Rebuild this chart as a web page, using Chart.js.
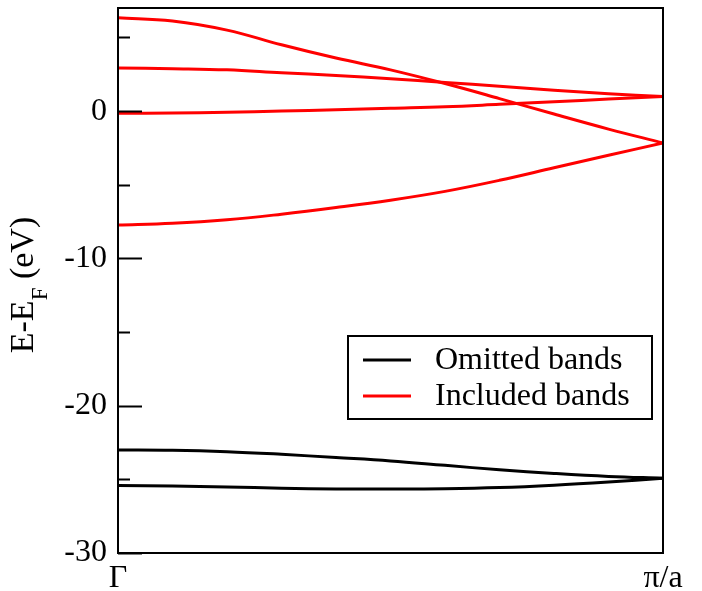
<!DOCTYPE html>
<html>
<head>
<meta charset="utf-8">
<script src="https://cdn.jsdelivr.net/npm/chart.js@4.4.1/dist/chart.umd.min.js"></script>
<style>
  body { margin: 0; background: #fff; }
  canvas { display: block; }
</style>
</head>
<body>
<canvas id="bands" width="702" height="591"></canvas>
<script>
// k along Gamma -> pi/a, as a fraction of the zone
const kPoints = [0, 0.1, 0.2, 0.3, 0.4, 0.5, 0.6, 0.7, 0.8, 0.9, 1.0];

// omitted (black) bands, eV
const omittedBand1 = [-23.0, -23.02, -23.12, -23.3, -23.52, -23.75, -24.05, -24.35, -24.6, -24.8, -24.92];
const omittedBand2 = [-25.42, -25.45, -25.52, -25.6, -25.65, -25.66, -25.64, -25.56, -25.4, -25.18, -24.92];

// included (red) bands, eV
const includedBand1 = [6.33, 6.12, 5.5, 4.5, 3.6, 2.8, 1.87, 0.85, -0.2, -1.22, -2.16];
const includedBand2 = [2.93, 2.88, 2.8, 2.6, 2.42, 2.2, 1.95, 1.68, 1.42, 1.18, 0.99];
const includedBand3 = [-0.15, -0.13, -0.08, 0.0, 0.1, 0.2, 0.3, 0.46, 0.63, 0.82, 0.99];
const includedBand4 = [-7.74, -7.62, -7.38, -7.0, -6.55, -6.05, -5.45, -4.7, -3.85, -3.0, -2.16];

const xTickValues = [0, 1];
const xTickLabels = ['Γ', 'π/a'];
const yMajorTicks = [-30, -20, -10, 0];
const yMinorTicks = [-25, -15, -5, 5];

const FONT = '"Liberation Serif", "Times New Roman", serif';

function band(values, color, label) {
  return {
    label: label,
    data: kPoints.map((k, i) => ({ x: k, y: values[i] })),
    borderColor: color,
    borderWidth: 3,
    pointRadius: 0,
    fill: false,
    tension: 0.4
  };
}

const framePlugin = {
  id: 'frame',
  afterDatasetsDraw(chart) {
    const ctx = chart.ctx;
    const a = chart.chartArea;
    const y = chart.scales.y;
    ctx.save();
    ctx.strokeStyle = '#000';
    ctx.lineWidth = 2;
    ctx.strokeRect(a.left, a.top, a.right - a.left, a.bottom - a.top);

    // inward ticks on the left axis
    ctx.beginPath();
    yMajorTicks.forEach(v => {
      const p = Math.round(y.getPixelForValue(v)) + 0.5;
      ctx.moveTo(a.left, p); ctx.lineTo(a.left + 24, p);
    });
    yMinorTicks.forEach(v => {
      const p = Math.round(y.getPixelForValue(v)) + 0.5;
      ctx.moveTo(a.left, p); ctx.lineTo(a.left + 12, p);
    });
    ctx.lineWidth = 2;
    ctx.stroke();

    // legend box
    const lx = 348, ly = 336, lw = 304, lh = 83;
    ctx.fillStyle = '#fff';
    ctx.fillRect(lx, ly, lw, lh);
    ctx.lineWidth = 2;
    ctx.strokeRect(lx, ly, lw, lh);
    const entries = chart.data.datasets.filter(d => d.label);
    ctx.font = '32px ' + FONT;
    ctx.textBaseline = 'middle';
    ctx.textAlign = 'left';
    entries.forEach((d, i) => {
      const yy = 360 + i * 36;
      ctx.strokeStyle = d.borderColor;
      ctx.lineWidth = 3;
      ctx.beginPath();
      ctx.moveTo(363, yy); ctx.lineTo(411, yy);
      ctx.stroke();
      ctx.fillStyle = '#000';
      ctx.fillText(d.label, 435, yy + 1);
    });

    // y axis title with subscript
    ctx.translate(33, 285);
    ctx.rotate(-Math.PI / 2);
    ctx.fillStyle = '#000';
    ctx.textBaseline = 'alphabetic';
    const big = '34px ' + FONT, small = '23px ' + FONT;
    ctx.font = big;
    const w1 = ctx.measureText('E-E').width;
    const w3 = ctx.measureText(' (eV)').width;
    ctx.font = small;
    const w2 = ctx.measureText('F').width;
    let x0 = -(w1 + w2 + w3) / 2;
    ctx.font = big;
    ctx.fillText('E-E', x0, 0);
    ctx.font = small;
    ctx.fillText('F', x0 + w1, 14);
    ctx.font = big;
    ctx.fillText(' (eV)', x0 + w1 + w2, 0);
    ctx.restore();
  }
};

new Chart(document.getElementById('bands'), {
  type: 'line',
  data: {
    datasets: [
      band(omittedBand1, '#000000', 'Omitted bands'),
      band(omittedBand2, '#000000', ''),
      band(includedBand1, '#ff0000', 'Included bands'),
      band(includedBand2, '#ff0000', ''),
      band(includedBand3, '#ff0000', ''),
      band(includedBand4, '#ff0000', '')
    ]
  },
  options: {
    responsive: false,
    animation: false,
    devicePixelRatio: 1,
    layout: { padding: { left: 0, right: 39, top: 8, bottom: 0 } },
    plugins: {
      legend: { display: false },
      tooltip: { enabled: false }
    },
    scales: {
      x: {
        type: 'linear',
        min: 0,
        max: 1,
        afterFit(scale) { scale.height = 38; scale.paddingLeft = 0; scale.paddingRight = 0; },
        afterBuildTicks(scale) { scale.ticks = xTickValues.map(v => ({ value: v })); },
        grid: { display: false, drawTicks: false },
        border: { display: false },
        ticks: {
          padding: 6,
          maxRotation: 0,
          color: '#000',
          font: { family: FONT, size: 32 },
          callback: v => xTickLabels[xTickValues.indexOf(v)] || ''
        }
      },
      y: {
        type: 'linear',
        min: -30,
        max: 7,
        afterFit(scale) { scale.width = 118; scale.paddingTop = 0; scale.paddingBottom = 0; },
        afterBuildTicks(scale) { scale.ticks = yMajorTicks.map(v => ({ value: v })); },
        grid: { display: false, drawTicks: false },
        border: { display: false },
        ticks: {
          padding: 11,
          color: '#000',
          font: { family: FONT, size: 32 },
          callback: v => String(v)
        }
      }
    }
  },
  plugins: [framePlugin]
});
</script>
</body>
</html>
